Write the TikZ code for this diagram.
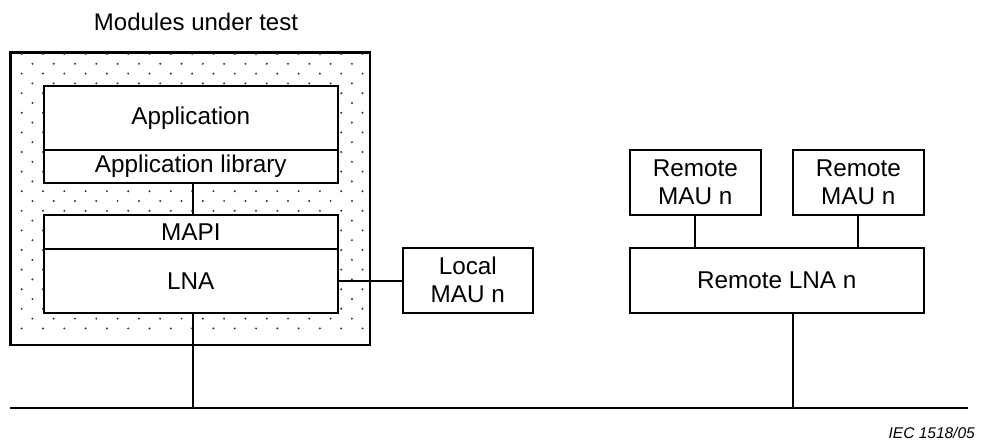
\documentclass[tikz,border=0pt]{standalone}
\usepackage{fontspec}
\setmainfont{Liberation Sans}
\begin{document}
\begin{tikzpicture}[x=1pt,y=-1pt,
  box/.style={draw=black, line width=1.6pt, fill=white, inner sep=0pt, anchor=north west, align=center,
    font=\fontsize{24.3}{28}\selectfont},
  conn/.style={draw=black, line width=1.6pt},
  busline/.style={draw=black, line width=2.6pt}]
\useasboundingbox (0,0) rectangle (998,441);
% outer box with dotted fill
\node[box, minimum width=359pt, minimum height=292pt] (mut) at (10,52) {};
\begin{scope}
  \clip (mut.north west) rectangle (mut.south east);
  \foreach \j in {0,...,28} {
    \pgfmathsetmacro{\yy}{54+\j*9.8}
    \pgfmathsetmacro{\off}{mod(\j,2)*10.7}
    \foreach \i in {0,...,17} {
      \fill[black!80] ({21.7+\off+\i*21.3},\yy) circle (1.1pt);
    }
  }
\end{scope}
\draw[line width=1.6pt] (mut.north west) rectangle (mut.south east);
\node[font=\fontsize{24}{28}\selectfont] (title) at (196,22) {Modules under test};
% inner boxes
\node[box, minimum width=294pt, minimum height=64pt] (app) at (43,85) {Application};
\node[box, minimum width=294pt, minimum height=33pt] (applib) at (43,149) {Application library};
\node[box, minimum width=294pt, minimum height=34pt] (mapi) at (43,214) {MAPI};
\node[box, minimum width=294pt, minimum height=64pt] (lna) at (43,248) {LNA};
\node[box, minimum width=130pt, minimum height=65pt] (local) at (402,247) {Local\\MAU n};
\node[box, minimum width=131pt, minimum height=65pt] (rmau1) at (629,149) {Remote\\MAU n};
\node[box, minimum width=131pt, minimum height=65pt] (rmau2) at (792,149) {Remote\\MAU n};
\node[box, minimum width=294pt, minimum height=65pt] (rlna) at (629,247) {Remote LNA n};
% bus
\coordinate (busL) at (10,408);
\coordinate (busR) at (968,408);
\draw[busline] (busL) -- (busR);
% connectors
\coordinate (c1) at (193,0);
\coordinate (c2) at (695,0);
\coordinate (c3) at (858,0);
\coordinate (c4) at (793,0);
\draw[conn] (c1 |- applib.south) -- (c1 |- mapi.north);
\draw[conn] (c1 |- lna.south) -- (c1 |- busL);
\draw[conn] (lna.east) -- (lna.east -| local.west);
\draw[conn] (c2 |- rmau1.south) -- (c2 |- rlna.north);
\draw[conn] (c3 |- rmau2.south) -- (c3 |- rlna.north);
\draw[conn] (c4 |- rlna.south) -- (c4 |- busL);
\node[anchor=east, inner sep=0pt, font=\fontsize{15.5}{18}\selectfont\itshape] (ref) at (975,433) {IEC 1518/05};
\end{tikzpicture}
\end{document}
